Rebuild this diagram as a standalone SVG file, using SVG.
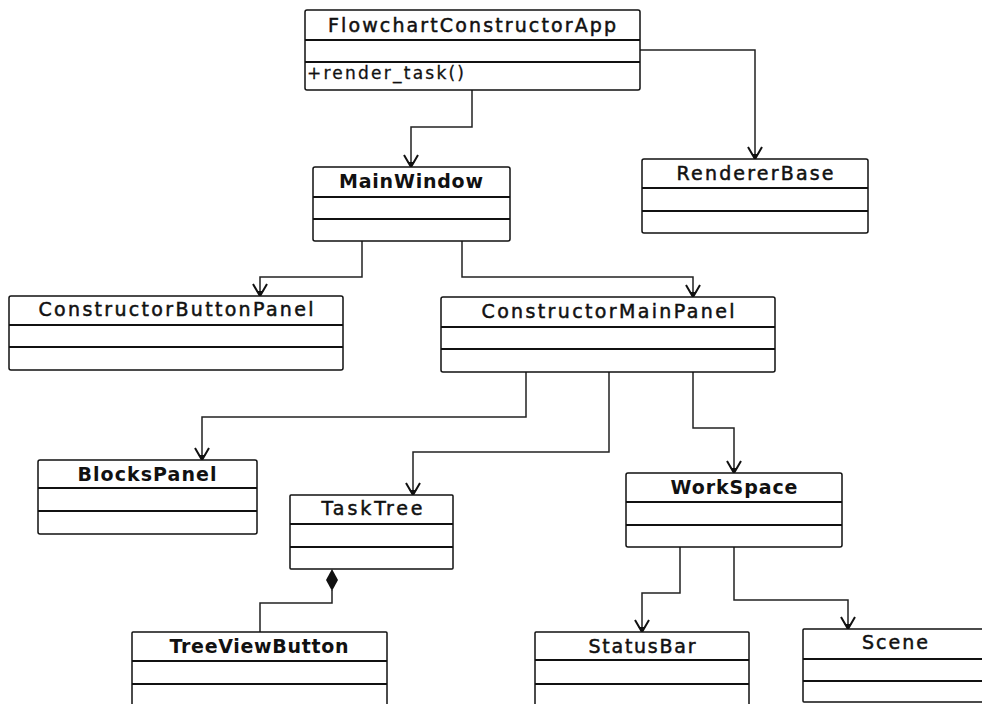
<svg xmlns="http://www.w3.org/2000/svg" width="982" height="704" viewBox="0 0 982 704">
<style>
.box{fill:#fff;stroke:#111;stroke-width:1.5}
.div{stroke:#111;stroke-width:2}
.t{font-family:"DejaVu Sans","Liberation Sans",sans-serif;font-size:19px;fill:#111;text-anchor:middle;stroke:#111;stroke-width:0.5}
.b{font-weight:bold;stroke:none}
.m{font-family:"DejaVu Sans","Liberation Sans",sans-serif;font-size:17px;fill:#111;stroke:#111;stroke-width:0.3}
.c{fill:none;stroke:#222;stroke-width:1.5}
</style>
<defs>
<marker id="arr" markerUnits="userSpaceOnUse" markerWidth="20" markerHeight="20" viewBox="-14 -10 16 20" refX="0" refY="0" orient="auto">
<path d="M-12,-7 L0,0 L-12,7" fill="none" stroke="#111" stroke-width="2"/>
<path d="M0,0 L-5,-3.5 L-5,3.5 Z" fill="#111"/>
</marker>
</defs>
<rect width="982" height="704" fill="#fff"/>
<g id="connectors">
<path class="c" d="M472,90 V127 H411 V167" marker-end="url(#arr)"/>
<path class="c" d="M640,50 H755 V159" marker-end="url(#arr)"/>
<path class="c" d="M362,241 V277 H260 V296" marker-end="url(#arr)"/>
<path class="c" d="M462,241 V277 H693 V297" marker-end="url(#arr)"/>
<path class="c" d="M526,372 V417 H202 V460" marker-end="url(#arr)"/>
<path class="c" d="M609,372 V452 H413 V495" marker-end="url(#arr)"/>
<path class="c" d="M693,372 V428 H734 V473" marker-end="url(#arr)"/>
<path class="c" d="M332,590 V603 H260 V632"/>
<path d="M332,569 L338,580 L332,591 L326,580 Z" fill="#111"/>
<path class="c" d="M680,547 V593 H642 V632" marker-end="url(#arr)"/>
<path class="c" d="M734,547 V600 H848 V629" marker-end="url(#arr)"/>
</g>
<g id="FlowchartConstructorApp">
<rect class="box" x="305" y="10" width="335" height="80" rx="2"/>
<line class="div" x1="305" y1="40" x2="640" y2="40"/>
<line class="div" x1="305" y1="62" x2="640" y2="62"/>
<text class="t" x="472" y="32" textLength="288" lengthAdjust="spacing">FlowchartConstructorApp</text>
<text class="m" x="307" y="79" textLength="157" lengthAdjust="spacing">+render_task()</text>
</g>
<g id="MainWindow">
<rect class="box" x="313" y="167" width="197" height="74" rx="2"/>
<line class="div" x1="313" y1="197" x2="510" y2="197"/>
<line class="div" x1="313" y1="219" x2="510" y2="219"/>
<text class="t b" x="411" y="188" textLength="144" lengthAdjust="spacing">MainWindow</text>
</g>
<g id="RendererBase">
<rect class="box" x="642" y="159" width="226" height="74" rx="2"/>
<line class="div" x1="642" y1="188" x2="868" y2="188"/>
<line class="div" x1="642" y1="211" x2="868" y2="211"/>
<text class="t" x="755" y="180" textLength="157" lengthAdjust="spacing">RendererBase</text>
</g>
<g id="ConstructorButtonPanel">
<rect class="box" x="9" y="296" width="334" height="74" rx="2"/>
<line class="div" x1="9" y1="325" x2="343" y2="325"/>
<line class="div" x1="9" y1="347" x2="343" y2="347"/>
<text class="t" x="176" y="316" textLength="275" lengthAdjust="spacing">ConstructorButtonPanel</text>
</g>
<g id="ConstructorMainPanel">
<rect class="box" x="441" y="297" width="334" height="75" rx="2"/>
<line class="div" x1="441" y1="327" x2="775" y2="327"/>
<line class="div" x1="441" y1="349" x2="775" y2="349"/>
<text class="t" x="608" y="318" textLength="253" lengthAdjust="spacing">ConstructorMainPanel</text>
</g>
<g id="BlocksPanel">
<rect class="box" x="38" y="460" width="219" height="74" rx="2"/>
<line class="div" x1="38" y1="488" x2="257" y2="488"/>
<line class="div" x1="38" y1="511" x2="257" y2="511"/>
<text class="t b" x="147" y="481" textLength="139" lengthAdjust="spacing">BlocksPanel</text>
</g>
<g id="TaskTree">
<rect class="box" x="290" y="495" width="163" height="74" rx="1"/>
<line class="div" x1="290" y1="524" x2="453" y2="524"/>
<line class="div" x1="290" y1="547" x2="453" y2="547"/>
<text class="t" x="372" y="515" textLength="101" lengthAdjust="spacing">TaskTree</text>
</g>
<g id="WorkSpace">
<rect class="box" x="626" y="473" width="216" height="74" rx="2"/>
<line class="div" x1="626" y1="502" x2="842" y2="502"/>
<line class="div" x1="626" y1="525" x2="842" y2="525"/>
<text class="t b" x="734" y="494" textLength="127" lengthAdjust="spacing">WorkSpace</text>
</g>
<g id="TreeViewButton">
<rect class="box" x="132" y="632" width="255" height="80" rx="1"/>
<line class="div" x1="132" y1="661" x2="387" y2="661"/>
<line class="div" x1="132" y1="684" x2="387" y2="684"/>
<text class="t b" x="259" y="653" textLength="179" lengthAdjust="spacing">TreeViewButton</text>
</g>
<g id="StatusBar">
<rect class="box" x="535" y="632" width="214" height="80" rx="1"/>
<line class="div" x1="535" y1="660" x2="749" y2="660"/>
<line class="div" x1="535" y1="684" x2="749" y2="684"/>
<text class="t" x="642" y="653" textLength="107" lengthAdjust="spacing">StatusBar</text>
</g>
<g id="Scene">
<rect class="box" x="803" y="629" width="200" height="73" rx="1"/>
<line class="div" x1="803" y1="659" x2="1003" y2="659"/>
<line class="div" x1="803" y1="681" x2="1003" y2="681"/>
<text class="t" x="895" y="649" textLength="66" lengthAdjust="spacing">Scene</text>
</g>
</svg>
